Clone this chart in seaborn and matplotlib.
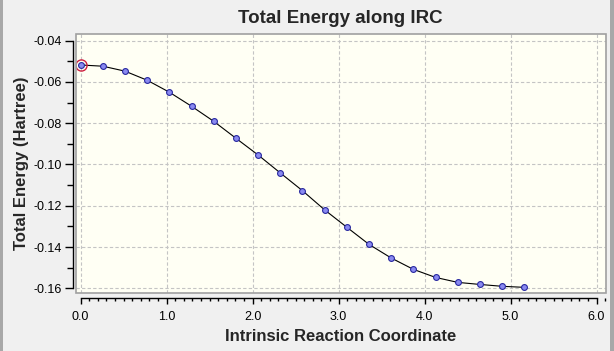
import numpy as np
import pandas as pd
import seaborn as sns
import matplotlib.pyplot as plt
from matplotlib.patches import Rectangle
from matplotlib.ticker import MultipleLocator

# IRC points
irc_step = 0.258
irc_index = list(range(21))
energy = [-0.0518, -0.0524, -0.0548, -0.0592, -0.0650, -0.0718, -0.0791,
          -0.0873, -0.0954, -0.1041, -0.1127, -0.1220, -0.1304, -0.1387,
          -0.1453, -0.1508, -0.1547, -0.1571, -0.1581, -0.1590, -0.1595]

df = pd.DataFrame({"coord": np.array(irc_index) * irc_step, "energy": energy})

sns.set_theme(style="ticks")
plt.rcParams["font.family"] = ["Liberation Sans", "DejaVu Sans"]

fig = plt.figure(figsize=(6.14, 3.51), dpi=100, facecolor="#F0F0F0")
ax = fig.add_axes([75.5 / 614, 1 - 292.5 / 351, 530.5 / 614, 258.5 / 351])
ax.set_facecolor("#FFFFF4")

sns.lineplot(data=df, x="coord", y="energy", ax=ax, color="black", linewidth=0.8,
             marker="o", markersize=4.2, markerfacecolor="#8A8AF0",
             markeredgecolor="#2828A0", markeredgewidth=0.8)
# current point highlighted
ax.plot(df["coord"].iloc[0], df["energy"].iloc[0], "o", markersize=8,
        markerfacecolor="none", markeredgecolor="#D02040", markeredgewidth=1.0)

ax.set_xlim(-0.06, 6.11)
ax.set_ylim(-0.162, -0.0368)

ax.xaxis.set_major_locator(MultipleLocator(1.0))
ax.xaxis.set_minor_locator(MultipleLocator(0.1))
ax.yaxis.set_major_locator(MultipleLocator(0.02))
ax.yaxis.set_minor_locator(MultipleLocator(0.01))
ax.xaxis.set_major_formatter(plt.FuncFormatter(lambda v, p: f"{v:.1f}"))
ax.yaxis.set_major_formatter(plt.FuncFormatter(lambda v, p: f"{v:.2f}"))

ax.grid(True, which="major", color="#C4C4C4", linestyle=(0, (3, 2)), linewidth=0.8)

for s in ["top", "right"]:
    ax.spines[s].set_visible(False)
ax.spines["left"].set_position(("outward", 2))
ax.spines["bottom"].set_position(("outward", 4.3))
ax.spines["left"].set_bounds(-0.16, -0.04)
ax.spines["bottom"].set_bounds(0, 6)
for s in ["left", "bottom"]:
    ax.spines[s].set_color("black")
    ax.spines[s].set_linewidth(1.0)

ax.add_patch(Rectangle((0, 0), 1, 1, transform=ax.transAxes, fill=False,
                       edgecolor="#A0A0A0", linewidth=1.2, clip_on=False, zorder=5))

ax.tick_params(axis="both", which="both", width=1, color="black",
               labelsize=9, labelcolor="black")
ax.tick_params(axis="y", which="major", length=6, pad=2)
ax.tick_params(axis="y", which="minor", length=4.3)
ax.tick_params(axis="x", which="major", length=4.3, pad=5)
ax.tick_params(axis="x", which="minor", length=2.5)

ax.set_title("Total Energy along IRC", fontsize=13.5, fontweight="bold", pad=8)
ax.set_xlabel("Intrinsic Reaction Coordinate", fontsize=12, fontweight="bold", labelpad=4)
ax.set_ylabel("Total Energy (Hartree)", fontsize=12, fontweight="bold", labelpad=3)

# window edges
fig.patches.append(Rectangle((0, 0), 3 / 614, 1, transform=fig.transFigure,
                             facecolor="#A8A8A8", edgecolor="none"))
fig.patches.append(Rectangle((1 - 4 / 614, 0), 4 / 614, 1, transform=fig.transFigure,
                             facecolor="#A8A8A8", edgecolor="none"))

fig.savefig("out.png", dpi=100, facecolor=fig.get_facecolor())
